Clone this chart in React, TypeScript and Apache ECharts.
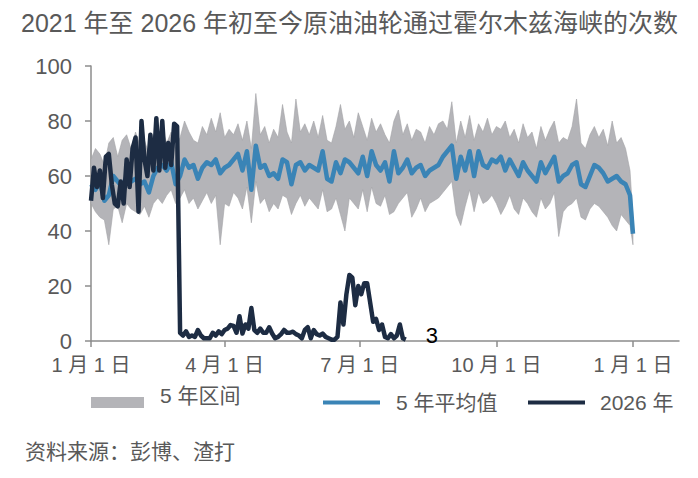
import React, { useEffect, useRef } from "react";
import * as echarts from "echarts";

// ---- data ----
const titleText = "2021 年至 2026 年初至今原油油轮通过霍尔木兹海峡的次数";
const sourceText = "资料来源：彭博、渣打";
const rangeName = "5 年区间";
const avgName = "5 年平均值";
const currentName = "2026 年";
const latestLabel = "3";

const xTickDays = [0, 90, 181, 273, 365];
const xTickLabels = ["1 月 1 日", "4 月 1 日", "7 月 1 日", "10 月 1 日", "1 月 1 日"];
const xMaxDay = 396;
const yTicks = [0, 20, 40, 60, 80, 100];

// 5-year series sampled every 3 days (day 0..363), last value = day 365
const BAND_STEP = 3;
const YEAR_END_DAY = 365;
const avg5y = [
  57, 55, 58, 51, 53, 60, 58, 56, 60, 58,
  59, 57, 58, 54, 60, 63, 64, 62, 65, 57,
  60, 66, 63, 64, 59, 63, 65, 64, 66, 61,
  63, 64, 66, 68, 62, 69, 55, 71, 63, 64,
  60, 61, 59, 66, 65, 57, 64, 65, 62, 64,
  63, 62, 69, 59, 58, 65, 61, 66, 65, 63,
  61, 67, 60, 69, 64, 62, 65, 58, 69, 61,
  63, 66, 61, 63, 64, 60, 62, 63, 64, 67,
  69, 71, 59, 67, 62, 69, 60, 69, 64, 63,
  66, 65, 67, 62, 66, 63, 60, 65, 62, 60,
  58, 65, 61, 64, 67, 58, 60, 61, 64, 65,
  57, 56, 60, 64, 63, 61, 58, 59, 60, 58,
  57, 53, 39,
];
const bandMax = [
  66, 70, 68, 64, 72, 74, 67, 73, 75, 70,
  76, 71, 73, 68, 75, 74, 77, 72, 76, 70,
  74, 80, 76, 73, 72, 78, 75, 81, 76, 83,
  74, 77, 75, 79, 73, 80, 70, 90, 75, 78,
  72, 77, 74, 86, 76, 72, 88, 76, 79, 75,
  80, 74, 82, 73, 72, 78, 86, 77, 80, 74,
  83, 78, 73, 81, 76, 79, 75, 72, 80, 84,
  75, 79, 73, 77, 76, 72, 78, 75, 79, 80,
  77, 87, 72, 80, 74, 82, 73, 79, 76, 81,
  75, 78, 77, 80, 74, 77, 72, 79, 74, 76,
  70, 78, 73, 77, 80, 72, 74, 73, 78, 88,
  72, 70, 75, 78, 74, 77, 71, 80, 72, 74,
  70, 62, 45,
];
const bandMin = [
  50, 47, 45, 44, 35, 48, 49, 43, 50, 48,
  47, 46, 49, 45, 50, 52, 50, 53, 55, 50,
  52, 55, 50, 52, 48, 51, 54, 50, 53, 35,
  50, 49, 54, 52, 48, 56, 43, 58, 50, 52,
  47, 50, 48, 53, 52, 46, 50, 53, 49, 52,
  50, 48, 55, 47, 48, 52, 46, 40, 52, 50,
  48, 55, 47, 56, 50, 49, 53, 46, 47, 50,
  52, 54, 45, 48, 52, 47, 50, 51, 52, 54,
  56, 58, 46, 42, 49, 55, 47, 54, 50, 51,
  53, 50, 46, 49, 53, 48, 46, 52, 50, 47,
  45, 52, 48, 50, 54, 38, 47, 49, 50, 52,
  45, 44, 48, 50, 49, 47, 45, 42, 40, 46,
  44, 42, 35,
];

// 2026 sampled every 2 days from Jan 1
const CUR_STEP = 2;
const y2026 = [
  51, 63, 56, 62, 52, 67, 68, 57, 50, 49,
  58, 50, 66, 56, 70, 74, 47, 80, 66, 60,
  75, 62, 81, 62, 80, 63, 72, 64, 79, 78,
  3, 2, 3.5, 1.5, 2, 1.5, 4, 2, 1, 1,
  1, 3, 2, 3.5, 2.5, 4, 4.5, 5.8, 5.5, 3,
  9, 2.7, 6, 4.5, 12, 4, 3, 4.5, 3, 3,
  5, 2.7, 1, 1.5, 2.5, 4, 3, 3, 3.4, 2.5,
  2, 1, 4, 5, 1, 4, 2.5, 2, 2.7, 1.5,
  1, 0.5, 0.5, 1.5, 14, 6, 17, 24, 23, 13,
  20, 17, 21, 21, 14, 7, 8, 4, 6, 1.5,
  1, 2.5, 1, 2, 6, 1, 0.5,
];

// ---- styles ----
const FONT = "'Liberation Sans', Arial, 'Noto Sans CJK SC', sans-serif";
const TEXT_GREY = "#595959";
const AXIS_GREY = "#8c8c8c";
const BAND_GREY = "#b4b4b8";
const BAND_EDGE = "#a2a2a6";
const AVG_BLUE = "#3a84b6";
const NAVY = "#1d2c43";

const bandDay = (i: number) => (i < avg5y.length - 1 ? i * BAND_STEP : YEAR_END_DAY);

export default function App() {
  const ref = useRef<HTMLDivElement>(null);

  useEffect(() => {
    if (!ref.current) return;
    const chart = echarts.init(ref.current, undefined, { renderer: "svg" });

    const bandData = bandMin.map((v, i) => [bandDay(i), v, bandMax[i]]);
    const avgPairs = avg5y.map((v, i) => [bandDay(i), v]);
    const curPairs = y2026.map((v, i) => [i * CUR_STEP, v]);

    const legendText = { color: TEXT_GREY, fontSize: 21, fontFamily: FONT };
    const legendBase = {
      top: 392,
      padding: 0,
      itemWidth: 57,
      itemHeight: 4,
      selectedMode: false,
    };

    chart.setOption({
      animation: false,
      textStyle: { fontFamily: FONT },
      title: [
        {
          text: titleText,
          left: 16,
          top: 5,
          textStyle: { color: TEXT_GREY, fontSize: 25, fontWeight: "normal", fontFamily: FONT },
        },
        {
          text: sourceText,
          left: 20,
          top: 436,
          textStyle: { color: TEXT_GREY, fontSize: 21, fontWeight: "normal", fontFamily: FONT },
        },
      ],
      legend: [
        {
          ...legendBase,
          data: [{ name: rangeName, icon: "rect", itemStyle: { color: BAND_GREY, borderWidth: 0 } }],
          left: 91,
          itemWidth: 53,
          itemHeight: 11,
          formatter: () => " ",
          textStyle: legendText,
        },
        {
          ...legendBase,
          data: [{ name: avgName, icon: "rect", itemStyle: { color: AVG_BLUE, borderWidth: 0 } }],
          left: 323,
          textStyle: { ...legendText, padding: [0, 0, 0, 11] },
        },
        {
          ...legendBase,
          data: [{ name: currentName, icon: "rect", itemStyle: { color: NAVY, borderWidth: 0 } }],
          left: 528,
          textStyle: { ...legendText, padding: [0, 0, 0, 10] },
        },
      ],
      graphic: [
        {
          type: "text",
          left: 160,
          top: 385,
          silent: true,
          style: { text: rangeName, fill: TEXT_GREY, fontSize: 21, fontFamily: FONT },
        },
      ],
      grid: { left: 91, right: 19, top: 66, bottom: 137, containLabel: false },
      xAxis: {
        type: "value",
        min: 0,
        max: xMaxDay,
        splitLine: { show: false },
        axisLine: { show: true, lineStyle: { color: AXIS_GREY, width: 1.5 } },
        axisTick: {
          show: true,
          length: 6,
          customValues: xTickDays,
          lineStyle: { color: AXIS_GREY, width: 1.5 },
        },
        axisLabel: {
          customValues: xTickDays,
          formatter: (v: number) => xTickLabels[xTickDays.indexOf(v)] ?? "",
          color: TEXT_GREY,
          fontSize: 20,
          margin: 14,
          fontFamily: FONT,
        },
      },
      yAxis: {
        type: "value",
        min: yTicks[0],
        max: yTicks[yTicks.length - 1],
        interval: 20,
        splitLine: { show: false },
        axisLine: { show: true, lineStyle: { color: AXIS_GREY, width: 1.5 } },
        axisTick: { show: true, length: 6, lineStyle: { color: AXIS_GREY, width: 1.5 } },
        axisLabel: { color: TEXT_GREY, fontSize: 22, margin: 19, fontFamily: FONT },
      },
      series: [
        {
          name: rangeName,
          type: "custom",
          data: bandData,
          encode: { x: 0, y: [1, 2] },
          silent: true,
          itemStyle: { color: BAND_GREY },
          z: 1,
          renderItem: (params: any, api: any) => {
            if (params.dataIndex !== 0) return null;
            const upper = bandData.map((d) => api.coord([d[0], d[2]]));
            const lower = bandData.map((d) => api.coord([d[0], d[1]])).reverse();
            return {
              type: "polygon",
              shape: { points: upper.concat(lower) },
              style: { fill: BAND_GREY, stroke: BAND_EDGE, lineWidth: 0.6 },
            };
          },
        },
        {
          name: avgName,
          type: "line",
          data: avgPairs,
          symbol: "none",
          silent: true,
          itemStyle: { color: AVG_BLUE },
          lineStyle: { width: 4.5, color: AVG_BLUE, join: "round" },
          z: 2,
        },
        {
          name: currentName,
          type: "line",
          data: curPairs,
          symbol: "none",
          silent: true,
          itemStyle: { color: NAVY },
          lineStyle: { width: 4.5, color: NAVY, join: "round" },
          endLabel: {
            show: true,
            formatter: () => latestLabel,
            color: "#000",
            fontSize: 22,
            fontFamily: FONT,
            distance: 20,
            offset: [0, -4],
          },
          z: 3,
        },
      ],
    });

    return () => chart.dispose();
  }, []);

  return (
    <div
      ref={ref}
      style={{ position: "fixed", left: 0, top: 0, width: 698, height: 478, background: "#fff" }}
    />
  );
}
